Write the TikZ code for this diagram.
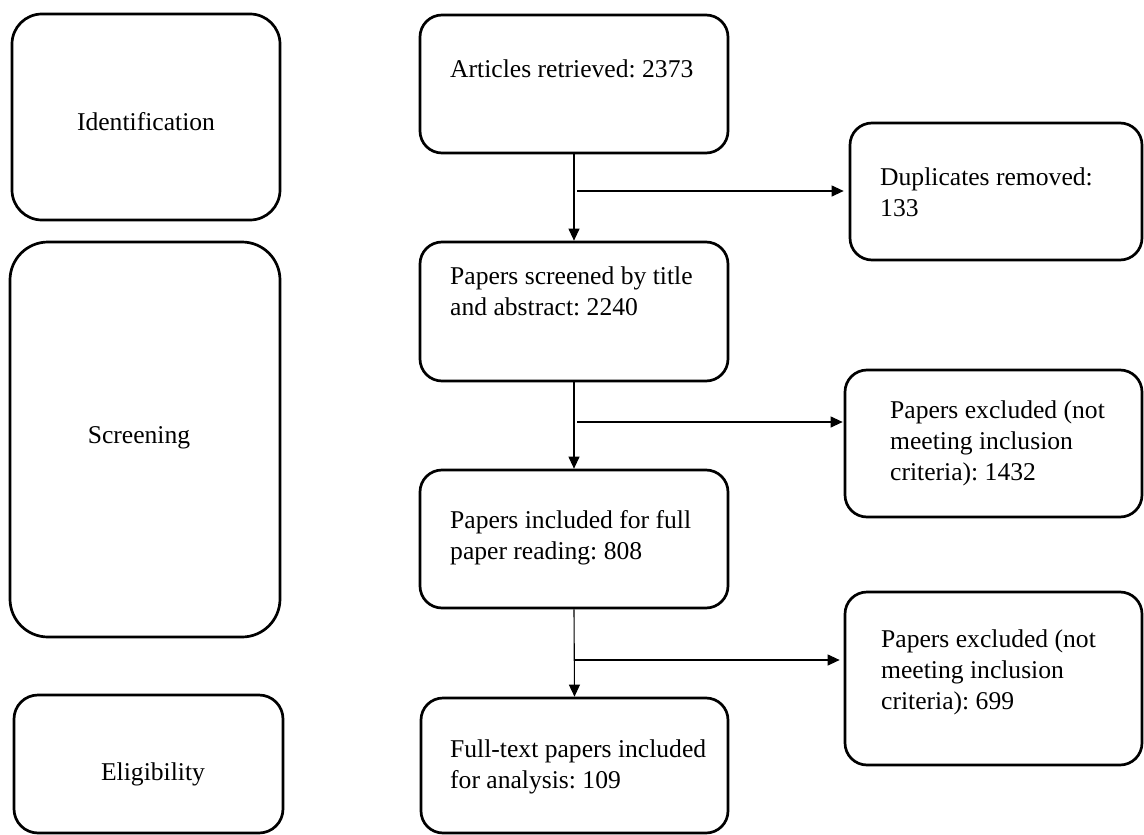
\documentclass[tikz,border=0pt]{standalone}
\usepackage{fontspec}
\setmainfont{Liberation Serif}
\usetikzlibrary{arrows.meta}
\frenchspacing
\begin{document}
\begin{tikzpicture}[x=1pt,y=-1pt,
  box/.style={draw=black, line width=2.7pt, rectangle, rounded corners=#1, inner sep=0pt, fill=white},
  box/.default=22pt,
  txt/.style={anchor=north west, inner sep=0pt, align=left, font=\fontsize{25.6}{31}\selectfont\frenchspacing},
  lbl/.style={anchor=base, inner sep=0pt, font=\fontsize{25.6}{31}\selectfont},
  arr/.style={draw=black, line width=1.1pt, -{Triangle[length=12pt,width=11pt]}}]
\fill[white] (0,0) rectangle (1144,835);
\useasboundingbox (0,0) rectangle (1144,835);

% stage boxes
\node[box=30pt, minimum width=268pt, minimum height=206pt] (ident) at (146,117) {};
\node[box=38pt, minimum width=270pt, minimum height=395pt] (screen) at (145,439.5) {};
\node[box=24pt, minimum width=269pt, minimum height=138pt] (elig) at (148.5,764) {};
\node[lbl] (identT) at (146,130) {Identification};
\node[lbl] (screenT) at (139,443) {Screening};
\node[lbl] (eligT) at (153,780) {Eligibility};

% main flow boxes
\node[box, minimum width=308pt, minimum height=138pt] (art) at (574,84) {};
\node[box, minimum width=308pt, minimum height=139pt] (scr) at (574,311.5) {};
\node[box, minimum width=308pt, minimum height=138pt] (inc) at (574,539) {};
\node[box, minimum width=307pt, minimum height=135pt] (full) at (574.5,765.5) {};

\node[txt] (artT) at (450,59.5) {Articles retrieved: 2373};
\node[txt] (scrT) at (450,266.5) {Papers screened by title\\and abstract: 2240};
\node[txt] (incT) at (450,510.5) {Papers included for full\\paper reading: 808};
\node[txt] (fullT) at (450,739.5) {Full-text papers included\\for analysis: 109};

% side boxes
\node[box, minimum width=292pt, minimum height=137pt] (dup) at (996,191.5) {};
\node[box, minimum width=297pt, minimum height=147pt] (ex1) at (993.5,443.5) {};
\node[box, minimum width=297pt, minimum height=173pt] (ex2) at (993.5,678.5) {};

\node[txt] (dupT) at (880,167.5) {Duplicates removed:\\133};
\node[txt] (ex1T) at (890,400.5) {Papers excluded (not\\meeting inclusion\\criteria): 1432};
\node[txt] (ex2T) at (881,629.5) {Papers excluded (not\\meeting inclusion\\criteria): 699};

% connectors
\draw[arr] (art.south) -- (scr.north);
\draw[arr] (scr.south) -- (inc.north);
\draw[arr] (inc.south) -- (full.north);

\coordinate (h1) at (577,191);
\coordinate (h2) at (577,422);
\coordinate (h3) at (574,660);
\draw[arr] (h1) -- ([xshift=-5pt]dup.west |- h1);
\draw[arr] (h2) -- ([xshift=-1pt]ex1.west |- h2);
\draw[arr] (h3) -- ([xshift=-4pt]ex2.west |- h3);
\end{tikzpicture}
\end{document}
